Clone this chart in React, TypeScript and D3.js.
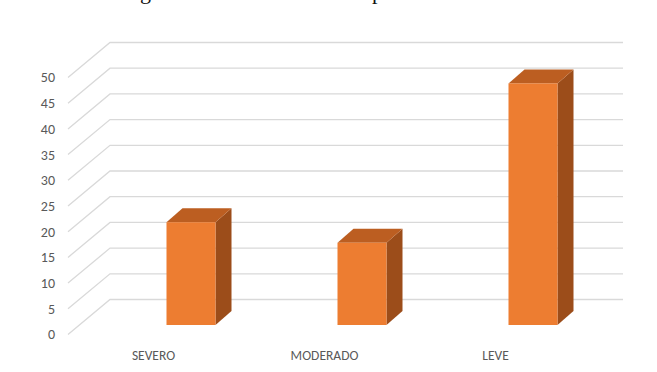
import React from "react";
import * as d3 from "d3";

// Chart data
const categories = ["SEVERO", "MODERADO", "LEVE"];
const values = [20, 16, 47];
const tickValues = [0, 5, 10, 15, 20, 25, 30, 35, 40, 45, 50];

const W = 657;
const H = 372;

// Pseudo-3D projection: front plane of the floor and the back wall offset
const FRONT_LEFT = 68;
const FRONT_RIGHT = 581;
const WALL_DX = 42;
const WALL_DY = -35;

// Bars sit partway into the floor
const BAR_SHIFT_X = 13;
const BAR_SHIFT_Y = -9.5;
const BAR_WIDTH = 49;
const BAR_DX = 16;
const BAR_DY = -14;

const FONT = "Carlito, 'Liberation Sans Narrow', 'DejaVu Sans Condensed', sans-serif";

export default function App() {
  const y = d3.scaleLinear().domain([0, 50]).range([334.5, 77.5]);
  const x = d3.scaleBand<string>().domain(categories).range([FRONT_LEFT, FRONT_RIGHT]);

  const gridColor = "#d9d9d9";

  return (
    <svg
      width={W}
      height={H}
      viewBox={`0 0 ${W} ${H}`}
      style={{ position: "absolute", left: 0, top: 0, background: "#fff" }}
    >
      {/* caption line above the chart, cut by the top edge */}
      <g fontFamily="'Liberation Serif', 'DejaVu Serif', serif" fontSize={22} fill="#111">
        <text x={140} y={-1.5}>g</text>
        <text x={372} y={-1.5}>p</text>
      </g>

      {/* side (diagonal) and back-wall gridlines */}
      <g stroke={gridColor} strokeWidth={1.3} fill="none">
        {tickValues.map((t) => (
          <path
            key={t}
            d={`M${FRONT_LEFT},${y(t)} L${FRONT_LEFT + WALL_DX},${y(t) + WALL_DY} L${
              FRONT_RIGHT + WALL_DX
            },${y(t) + WALL_DY}`}
          />
        ))}
      </g>

      {/* value axis labels */}
      <g fontFamily={FONT} fontSize={14} fill="#595959" textAnchor="end">
        {tickValues.map((t) => (
          <text key={t} x={55} y={y(t)} dy="0.35em">
            {t}
          </text>
        ))}
      </g>

      {/* bars */}
      {categories.map((c, i) => {
        const x0 = (x(c) as number) + x.bandwidth() / 2 + BAR_SHIFT_X;
        const x1 = x0 + BAR_WIDTH;
        const yb = y(0) + BAR_SHIFT_Y;
        const yt = y(values[i]) + BAR_SHIFT_Y;
        const top = `M${x0},${yt} L${x0 + BAR_DX},${yt + BAR_DY} L${x1 + BAR_DX},${yt + BAR_DY} L${x1},${yt} Z`;
        const side = `M${x1},${yt} L${x1 + BAR_DX},${yt + BAR_DY} L${x1 + BAR_DX},${yb + BAR_DY} L${x1},${yb} Z`;
        return (
          <g key={c}>
            <path d={side} fill="#9c4d1a" />
            <path d={top} fill="#bc5e21" />
            <rect x={x0} y={yt} width={BAR_WIDTH} height={yb - yt} fill="#ed7d31" />
          </g>
        );
      })}

      {/* category labels */}
      <g fontFamily={FONT} fontSize={13.5} fill="#595959" textAnchor="middle">
        {categories.map((c) => (
          <text key={c} x={(x(c) as number) + x.bandwidth() / 2} y={355} dy="0.35em">
            {c}
          </text>
        ))}
      </g>
    </svg>
  );
}
